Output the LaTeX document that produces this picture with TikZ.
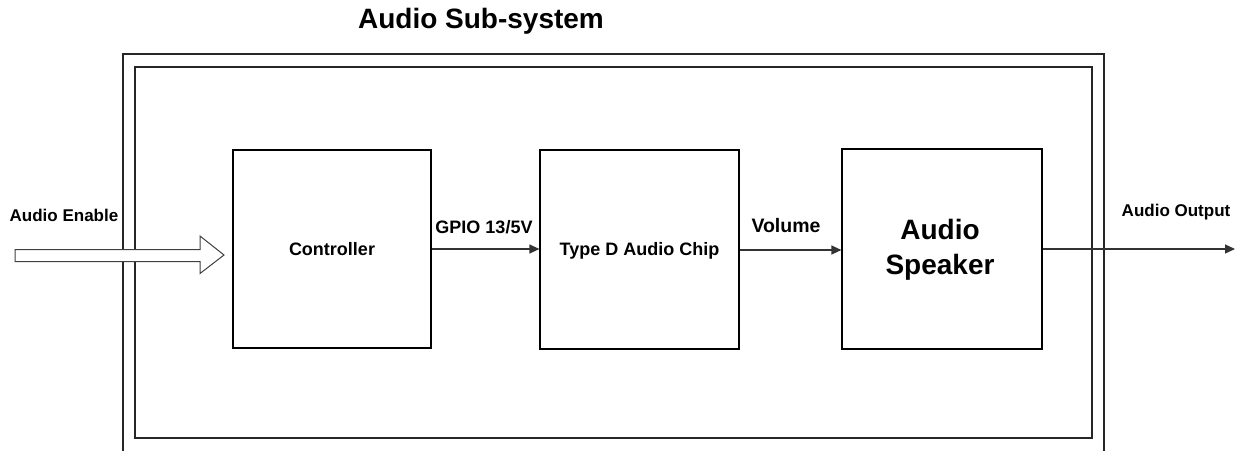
\documentclass[tikz,border=0pt]{standalone}
\usepackage{fontspec}
\setmainfont{Liberation Sans}
\usetikzlibrary{arrows.meta}
\tikzset{
  blk/.style={draw=black, line width=1.2pt, minimum width=198pt, minimum height=198pt, inner sep=0pt, font=\bfseries\fontsize{18}{21}\selectfont},
  frame/.style={draw=black!85, line width=1.3pt},
  arr/.style={draw=black!80, line width=1.2pt, -{Triangle[length=10pt,width=9pt]}},
  lbl/.style={inner sep=0pt, font=\bfseries\fontsize{18}{21}\selectfont}
}
\begin{document}
\begin{tikzpicture}[x=1pt,y=-1pt]
\useasboundingbox (0,0) rectangle (1242,450);
% outer frame (open at bottom)
\draw[frame] (123,452) -- (123,54) -- (1104,54) -- (1104,452);
% inner frame
\draw[frame] (135,67) rectangle (1092,438);
% title
\node[lbl, font=\bfseries\fontsize{28}{32}\selectfont] (title) at (481,21) {Audio Sub-system};
% blocks
\node[blk] (ctrl) at (332,249) {Controller};
\node[blk, minimum width=199pt, minimum height=199pt] (chip) at (639.5,249.5) {};
\node[lbl] (chiptxt) at (639.5,251) {Type D Audio Chip};
\node[blk, minimum width=200pt, minimum height=200pt] (spk) at (942,249) {};
\node[lbl, align=center, font=\bfseries\fontsize{28}{35}\selectfont] (spktxt) at (940,250) {Audio\\Speaker};
% hollow input arrow
\draw[line width=1pt, draw=black!75, fill=white] (15,249.5) -- (200,249.5) -- (200,236) -- (224,255) -- (200,273.5) -- (200,261.5) -- (15,261.5) -- cycle;
\node[lbl, font=\bfseries\fontsize{17}{20}\selectfont] (en) at (64,215) {Audio Enable};
% connectors
\draw[arr] (ctrl.east) -- (ctrl.east -| chip.west);
\node[lbl] (gpio) at (484,227) {GPIO 13/5V};
\draw[arr] (chip.east |- 0,250) -- (spk.west |- 0,250);
\node[lbl, font=\bfseries\fontsize{19.5}{22}\selectfont] (vol) at (786,226) {Volume};
\coordinate (out) at (1235,249);
\draw[arr] (spk.east) -- (out);
\node[lbl, font=\bfseries\fontsize{17}{20}\selectfont] (ao) at (1176,212) {Audio Output};
\end{tikzpicture}
\end{document}
